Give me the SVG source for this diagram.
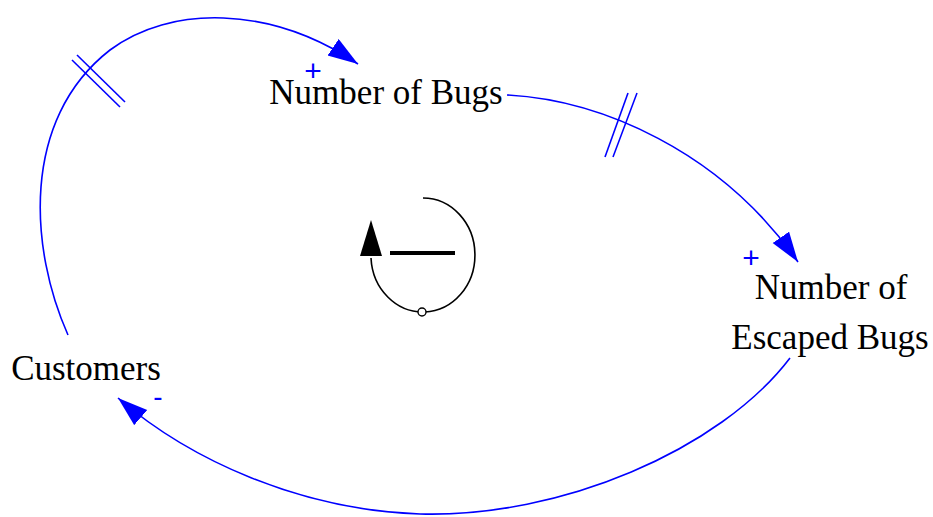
<svg xmlns="http://www.w3.org/2000/svg" width="933" height="517" viewBox="0 0 933 517">
<style>
.lbl{font-family:"Liberation Serif","Times New Roman",serif;font-size:35px;fill:#000}
.pol{font-family:"Liberation Sans",Arial,sans-serif;font-size:30px;fill:#0000ff;text-anchor:middle}
.link{fill:none;stroke:#0000ff;stroke-width:1.6}
.delay{stroke:#0000ff;stroke-width:1.6}
</style>
<defs>
<marker id="ah" markerUnits="userSpaceOnUse" markerWidth="32" markerHeight="22" refX="30" refY="10" orient="auto">
<path d="M0,0 L30,10 L0,20 Z" fill="#0000ff"/>
</marker>
</defs>
<rect width="933" height="517" fill="#fff"/>
<g id="connectors">
<path class="link" d="M68,335 C30,250 20,120 110,50 C170,5 270,5 358,64" marker-end="url(#ah)"/>
<line class="delay" x1="72" y1="60" x2="120" y2="107"/>
<line class="delay" x1="77" y1="55" x2="125" y2="102"/>
<text class="pol" x="313" y="81">+</text>
<path class="link" d="M507,95 C600,100 720,150 798,262" marker-end="url(#ah)"/>
<line class="delay" x1="628" y1="93" x2="605" y2="157"/>
<line class="delay" x1="637" y1="93" x2="613" y2="157"/>
<text class="pol" x="751" y="268">+</text>
<path class="link" d="M790,358 C720,450 560,518 420,514 C300,510 190,460 118,398" marker-end="url(#ah)"/>
<text class="pol" x="158" y="406" style="font-size:28px">-</text>
</g>
<g id="node-bugs"><text class="lbl" x="386" y="104" text-anchor="middle">Number of Bugs</text></g>
<g id="node-escaped"><text class="lbl" x="831" y="299" text-anchor="middle">Number of</text><text class="lbl" x="830" y="349" text-anchor="middle">Escaped Bugs</text></g>
<g id="node-customers"><text class="lbl" x="86" y="380" text-anchor="middle">Customers</text></g>
<g id="loop">
<path d="M423,198 A52 57 0 1 1 371,258" fill="none" stroke="#000" stroke-width="1.6"/>
<polygon points="371,220 360,256 382,256" fill="#000"/>
<rect x="390" y="251" width="65" height="4" fill="#000"/>
<circle cx="422" cy="312" r="4" fill="#fff" stroke="#000" stroke-width="1.4"/>
</g>
</svg>
